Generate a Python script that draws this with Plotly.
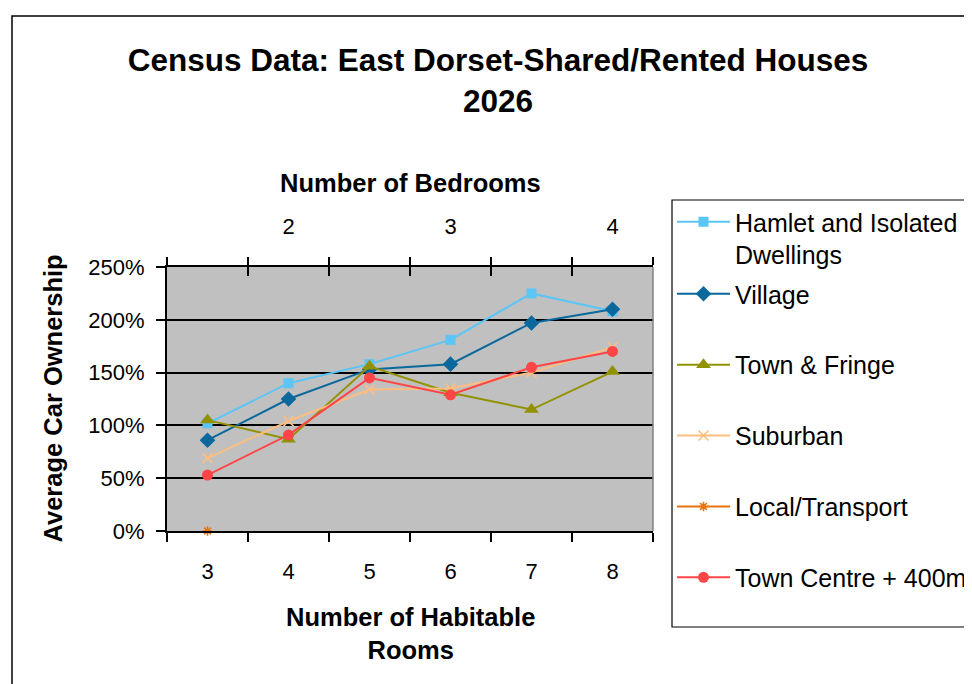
import plotly.graph_objects as go

# ---- data ----
rooms = [3, 4, 5, 6, 7, 8]
room_labels = ["3", "4", "5", "6", "7", "8"]
bedroom_labels = ["", "2", "", "3", "", "4"]

hamlet = [102, 140, 158, 181, 225, 208]
village = [86, 125, 153, 158, 197, 210]
town_fringe = [105, 87, 156, 131, 115, 151]
suburban = [69, 104, 134, 135, 150, 174]
local_transport = [0, None, None, None, None, None]
town_centre = [53, 91, 145, 129, 155, 170]

FONT = "Liberation Sans, Arial, sans-serif"

series = [
    ("Hamlet and Isolated<br>Dwellings", hamlet, "#5BC5F5", "square", 10, "x", "legend"),
    ("Village", village, "#0B689C", "diamond", 12, "x", "legend2"),
    ("Town & Fringe", town_fringe, "#929200", "triangle-up", 13, "x", "legend2"),
    ("Suburban", suburban, "#FFBE80", "x-thin", 10, "x", "legend2"),
    ("Local/Transport", local_transport, "#E8730F", "asterisk", 8, "x2", "legend2"),
    ("Town Centre + 400m", town_centre, "#FF4545", "circle", 11, "x3", "legend2"),
]

fig = go.Figure()
for i, (name, vals, color, sym, size, xa, lg) in enumerate(series):
    marker = dict(symbol=sym, size=size, color=color)
    if sym in ("x-thin", "asterisk"):
        marker["line"] = dict(color=color, width=1.6)
    fig.add_trace(go.Scatter(
        x=rooms, y=vals, name=name, mode="lines+markers",
        line=dict(color=color, width=2), marker=marker,
        xaxis=xa, yaxis="y", legend=lg, legendgroup=f"g{i}", cliponaxis=False,
    ))

x_common = dict(range=[2.5, 8.5], showgrid=False, zeroline=False,
                fixedrange=True)
tick_font = dict(family=FONT, size=22, color="black")

# page offset: the html body adds an 8px margin
W, H = 964, 676

legend_common = dict(xref="container", x=(672 - 8) / W,
                     xanchor="left", yanchor="top", bgcolor="rgba(0,0,0,0)",
                     borderwidth=0, font=dict(family=FONT, size=25, color="black"),
                     traceorder="grouped", tracegroupgap=35.4, valign="top",
                     itemwidth=53, maxheight=600)

fig.update_layout(
    width=W, height=H,
    margin=dict(l=159, r=319, t=259, b=153, autoexpand=False),
    paper_bgcolor="white", plot_bgcolor="#C0C0C0",
    font=dict(family=FONT, color="black", size=22),
    title=dict(text="Census Data: East Dorset-Shared/Rented Houses<br>2026",
               x=490 / W, xref="container", xanchor="center",
               y=1 - 63 / H, yref="container", yanchor="middle",
               font=dict(family=FONT, size=31.5, weight="bold", color="black")),
    xaxis=dict(**x_common, tickmode="array", tickvals=rooms, ticktext=room_labels,
               ticks="", showline=True, linecolor="black", linewidth=2,
               ticklabelstandoff=20, tickfont=tick_font,
               minor=dict(tick0=2.5, dtick=1, ticks="outside", ticklen=9,
                          tickcolor="black", tickwidth=1.5, showgrid=False)),
    xaxis2=dict(**x_common, overlaying="x", side="top", anchor="y",
                tickmode="array", tickvals=rooms, ticktext=bedroom_labels,
                ticks="", showline=True, linecolor="black", linewidth=2,
                ticklabelstandoff=22, tickfont=tick_font,
                minor=dict(tick0=2.5, dtick=1, ticks="outside", ticklen=8,
                           tickcolor="black", tickwidth=1.5, showgrid=False)),
    xaxis3=dict(**x_common, overlaying="x", side="top", anchor="y",
                showticklabels=False, tickmode="linear", tick0=2.5, dtick=1,
                ticks="inside", ticklen=9, tickcolor="black", tickwidth=1.5,
                showline=False),
    yaxis=dict(range=[0, 250], dtick=50, tick0=0, ticksuffix="%",
               showgrid=True, gridcolor="black", gridwidth=1.5,
               zeroline=False, showline=True, linecolor="black", linewidth=2,
               ticks="outside", ticklen=9, tickcolor="black", tickwidth=1.5,
               ticklabelstandoff=7, tickfont=tick_font, fixedrange=True),
    legend=dict(y=(531 - 199) / 264, **legend_common),
    legend2=dict(y=(531 - 271) / 264, **legend_common),
    showlegend=True,
)

ann_font = dict(family=FONT, size=25.5, color="black", weight="bold")
fig.add_annotation(text="Number of Bedrooms", xref="paper", yref="paper",
                   x=0.5, y=(531 - 182.5) / 264, showarrow=False,
                   xanchor="center", yanchor="middle", font=ann_font)
fig.add_annotation(text="Number of Habitable<br>Rooms", xref="paper", yref="paper",
                   x=(410 - 167) / 486, y=(531 - 633) / 264, showarrow=False,
                   xanchor="center", yanchor="middle", font=ann_font)
fig.add_annotation(text="Average Car Ownership", xref="paper", yref="paper",
                   x=(52.5 - 167) / 486, y=0.5, showarrow=False, textangle=-90,
                   xanchor="center", yanchor="middle", font=ann_font)

# plot-area right border (grey), legend frame and outer chart frame
fig.add_shape(type="line", xref="paper", yref="paper", x0=1, x1=1, y0=0, y1=1,
              line=dict(color="#808080", width=1.5))
fig.add_shape(type="rect", xref="paper", yref="paper",
              x0=(672 - 167) / 486, x1=1.8, y0=(531 - 627) / 264, y1=(531 - 200) / 264,
              line=dict(color="black", width=1.2), layer="below")
fig.add_shape(type="rect", xref="paper", yref="paper",
              x0=(12 - 167) / 486, x1=1.8, y0=-0.8, y1=(531 - 16) / 264,
              line=dict(color="black", width=1.5), layer="below")

fig.write_html("out.html")
